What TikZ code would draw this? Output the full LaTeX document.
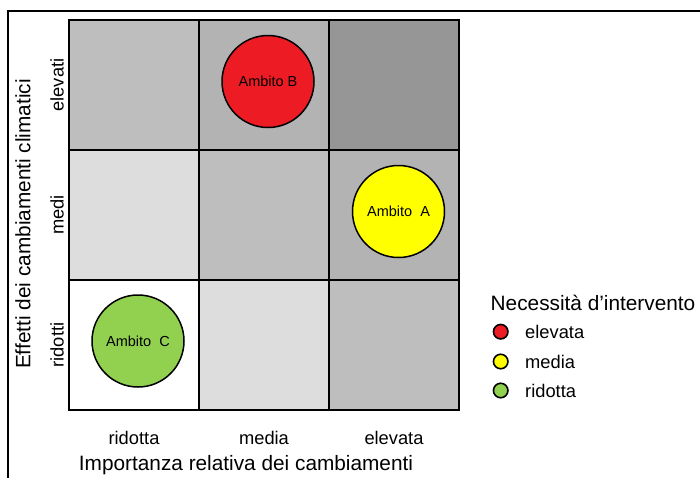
\documentclass[tikz,border=0pt]{standalone}
\usepackage{fontspec}
\setmainfont{Liberation Sans}
\definecolor{cellA}{HTML}{BEBEBE}
\definecolor{cellB}{HTML}{B3B3B3}
\definecolor{cellC}{HTML}{969696}
\definecolor{cellD}{HTML}{DDDDDD}
\definecolor{hiRed}{HTML}{ED1C24}
\definecolor{midYellow}{HTML}{FFFF00}
\definecolor{loGreen}{HTML}{92D050}
\begin{document}
\begin{tikzpicture}[x=1pt,y=-1pt,
  bubble/.style={circle,draw=black,line width=1.5pt,minimum size=92pt,inner sep=0pt,font=\fontsize{14.5}{16}\selectfont},
  keydot/.style={circle,draw=black,line width=1.6pt,minimum size=14.5pt,inner sep=0pt},
  keytext/.style={anchor=west,font=\fontsize{18.3}{20}\selectfont,inner sep=0pt},
  ticklabel/.style={font=\fontsize{18.3}{20}\selectfont,inner sep=0pt},
  axistitle/.style={font=\fontsize{20.8}{23}\selectfont,inner sep=0pt}]
\useasboundingbox (0,0) rectangle (700,477);
% outer frame (runs past the page edge on the right and bottom)
\draw[line width=2pt] (8,500) -- (8,10.5) -- (720,10.5);
% cell shading, rows from top (elevati) to bottom (ridotti)
\fill[cellA] (69,20) rectangle (199,150);
\fill[cellB] (199,20) rectangle (329,150);
\fill[cellC] (329,20) rectangle (459,150);
\fill[cellD] (69,150) rectangle (199,280);
\fill[cellA] (199,150) rectangle (329,280);
\fill[cellB] (329,150) rectangle (459,280);
\fill[white] (69,280) rectangle (199,410);
\fill[cellD] (199,280) rectangle (329,410);
\fill[cellA] (329,280) rectangle (459,410);
% grid lines
\draw[line width=1.6pt] (69,20) rectangle (459,410);
\draw[line width=1.6pt] (199,20) -- (199,410) (329,20) -- (329,410)
  (69,150) -- (459,150) (69,280) -- (459,280);
% bubbles
\node[bubble,fill=hiRed] (ambB) at (268,81.5) {Ambito B};
\node[bubble,fill=midYellow] (ambA) at (398.5,211.5) {Ambito\ \ A};
\node[bubble,fill=loGreen] (ambC) at (138,341) {Ambito\ \ C};
% column labels
\node[ticklabel] (colLo) at (134,438) {ridotta};
\node[ticklabel] (colMid) at (264,438) {media};
\node[ticklabel] (colHi) at (394,438) {elevata};
\node[axistitle] (xTitle) at (246,465) {Importanza relativa dei cambiamenti};
% row labels
\node[ticklabel,rotate=90] (rowHi) at (57,85) {elevati};
\node[ticklabel,rotate=90] (rowMid) at (57,215) {medi};
\node[ticklabel,rotate=90] (rowLo) at (57,345) {ridotti};
\node[axistitle,rotate=90] (yTitle) at (23,224) {Effetti dei cambiamenti climatici};
% legend
\node[axistitle,anchor=west] (keyTitle) at (490.5,302.5) {Necessità d’intervento};
\node[keydot,fill=hiRed] (keyHi) at (500.7,331.7) {};
\node[keydot,fill=midYellow] (keyMid) at (500.7,361.5) {};
\node[keydot,fill=loGreen] (keyLo) at (500.7,390.5) {};
\node[keytext] (keyHiT) at (525,331.7) {elevata};
\node[keytext] (keyMidT) at (525,361.5) {media};
\node[keytext] (keyLoT) at (525,390.5) {ridotta};
\end{tikzpicture}
\end{document}
